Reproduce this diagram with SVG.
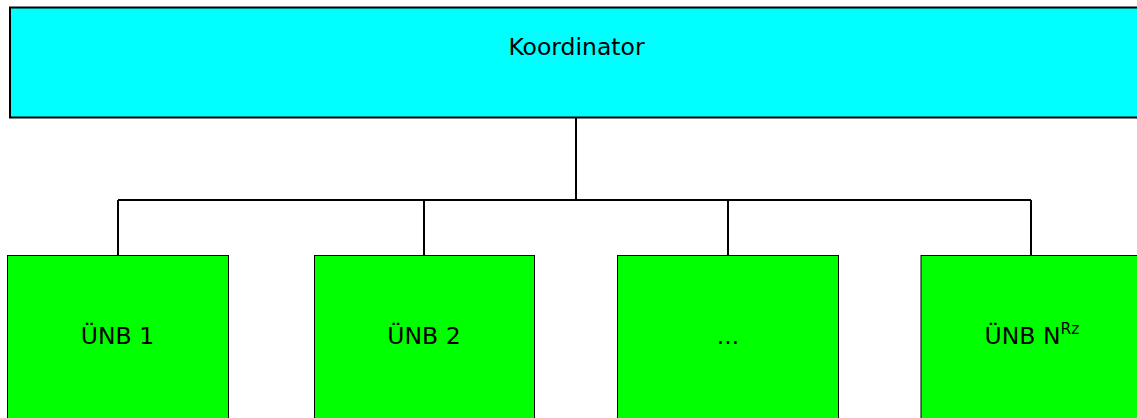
<svg xmlns="http://www.w3.org/2000/svg" width="1137" height="418" viewBox="0 0 1137 418">
<style>
.coord{fill:#00ffff;stroke:#000;stroke-width:2}
.tso{fill:#00ff00;stroke:#000;stroke-width:1}
.lbl{font-family:"DejaVu Sans",Verdana,sans-serif;font-size:23.5px;fill:#000;text-anchor:middle}
.conn{fill:none;stroke:#000;stroke-width:2}
</style>
<rect width="1137" height="418" fill="#fff"/>
<g id="connectors">
<path class="conn" d="M576,117 V200"/>
<path class="conn" d="M118,200 H1031"/>
<path class="conn" d="M118,200 V255"/>
<path class="conn" d="M424,200 V255"/>
<path class="conn" d="M728,200 V255"/>
<path class="conn" d="M1031,200 V255"/>
</g>
<g id="koordinator">
<rect class="coord" x="10" y="7.5" width="1133" height="110"/>
<text class="lbl" x="576.5" y="55">Koordinator</text>
</g>
<g id="uenb1">
<rect class="tso" x="7.5" y="255.5" width="221" height="170"/>
<text class="lbl" x="117.5" y="343.5">ÜNB 1</text>
</g>
<g id="uenb2">
<rect class="tso" x="314.5" y="255.5" width="220" height="170"/>
<text class="lbl" x="424" y="343.5">ÜNB 2</text>
</g>
<g id="uenb-dots">
<rect class="tso" x="617.5" y="255.5" width="221" height="170"/>
<text class="lbl" x="728" y="343.5">...</text>
</g>
<g id="uenbN">
<rect class="tso" x="921" y="255.5" width="221" height="170"/>
<text class="lbl" x="1032" y="343.5">ÜNB N<tspan font-size="15.5" dy="-10">Rz</tspan></text>
</g>
</svg>
